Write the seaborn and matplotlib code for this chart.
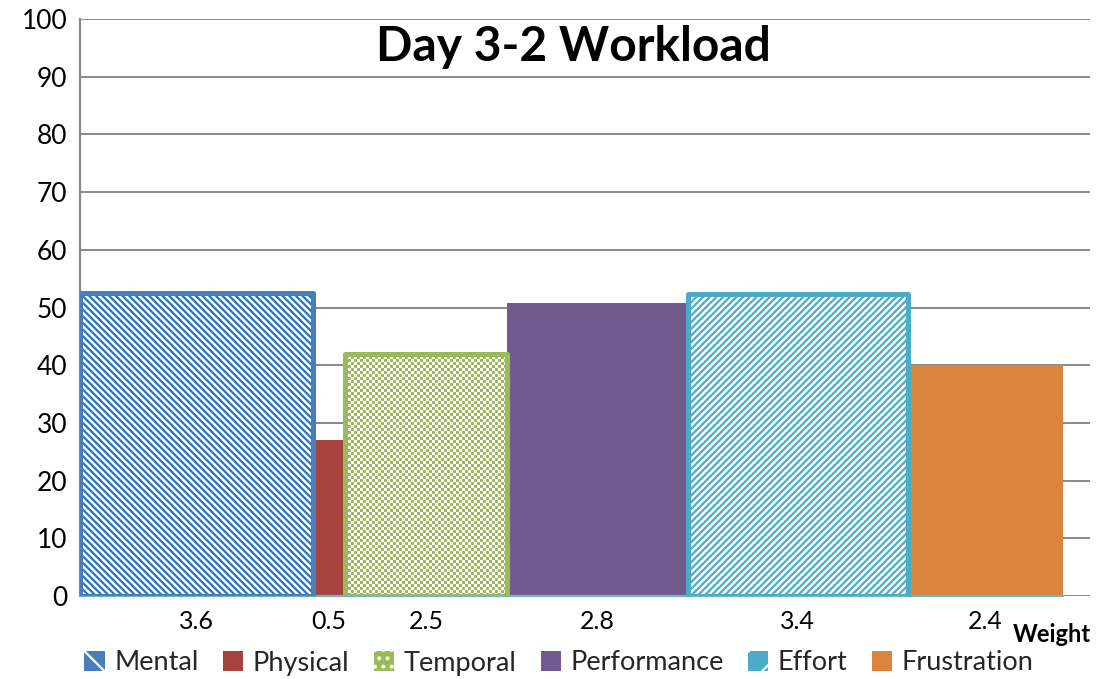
import numpy as np
import pandas as pd
import matplotlib
matplotlib.use("Agg")
import matplotlib.pyplot as plt
from matplotlib.patches import Patch, Rectangle
import seaborn as sns

# NASA-TLX style workload: bar width = weight, bar height = rating
categories = ["Mental", "Physical", "Temporal", "Performance", "Effort", "Frustration"]
weights = [3.6, 0.5, 2.5, 2.8, 3.4, 2.4]
ratings = [52.5, 27.0, 42.0, 50.8, 52.3, 40.0]
weight_labels = ["3.6", "0.5", "2.5", "2.8", "3.4", "2.4"]
y_ticks = [0, 10, 20, 30, 40, 50, 60, 70, 80, 90, 100]
title = "Day 3-2 Workload"

# styling per category
face_colors = ["white", "#A5433F", "white", "#725A8E", "white", "#DB843D"]
line_colors = ["#4A7EBB", "#A5433F", "#9BBB59", "#725A8E", "#4BACC6", "#DB843D"]
hatch_colors = ["#2474C4", None, "#9BBB59", None, "#4BACC6", None]
hatches = ["\\" * 5, None, "checker", None, "/" * 5, None]
outlined = [True, False, True, False, True, False]

sns.set_theme(style="white")
plt.rcParams["font.family"] = ["Lato", "DejaVu Sans"]
plt.rcParams["hatch.linewidth"] = 1.6

fig = plt.figure(figsize=(10.96, 6.79), dpi=100)
ax = fig.add_axes([80 / 1096, 1 - 596 / 679, 1010 / 1096, (596 - 19) / 679])

edges = [0.0] + list(np.cumsum(weights))
centers = [(a + b) / 2 for a, b in zip(edges[:-1], edges[1:])]
df = pd.DataFrame({"category": categories, "center": centers, "rating": ratings})

sns.histplot(data=df, x="center", weights="rating", bins=edges, ax=ax,
             stat="count", element="bars", fill=True, linewidth=0, zorder=2)

ax.set_xlim(0, 15.62)
ax.set_ylim(0, 100)
ax.set_xlabel("")
ax.set_ylabel("")

grey = "#898989"
ax.set_yticks(y_ticks)
ax.set_yticklabels([str(v) for v in y_ticks], fontsize=19, color="black")
ax.yaxis.grid(True, color=grey, linewidth=1.4, zorder=0)
ax.set_axisbelow(True)
ax.tick_params(axis="y", length=0, pad=9)

ax.set_xticks(edges)
ax.set_xticklabels([])
ax.set_xticks(centers, minor=True)
ax.set_xticklabels(weight_labels, minor=True, fontsize=18, color="black")
ax.tick_params(axis="x", which="major", length=6, width=1.4, color=grey, direction="out")
ax.tick_params(axis="x", which="minor", length=0, pad=10)

for side in ["top", "right"]:
    ax.spines[side].set_visible(False)
ax.spines["left"].set_color(grey)
ax.spines["left"].set_linewidth(1.6)
ax.spines["bottom"].set_color("#74B4C9")
ax.spines["bottom"].set_linewidth(1.6)
ax.spines["bottom"].set_bounds(0, edges[-1])

# pixels per data unit, used for the checker texture
fig.canvas.draw()
p0 = ax.transData.transform((0, 0))
p1 = ax.transData.transform((1, 1))
px_x = p1[0] - p0[0]
px_y = p1[1] - p0[1]
cell = 3.0

bars = list(ax.patches)
for i, bar in enumerate(bars):
    x0, w, h = bar.get_x(), bar.get_width(), bar.get_height()
    bar.set_facecolor(face_colors[i])
    bar.set_linewidth(0)
    if hatches[i] == "checker":
        nx = int(round(w * px_x / cell))
        ny = int(round(h * px_y / cell))
        jj, ii = np.indices((ny, nx))
        board = ((ii + jj) % 2).astype(float)
        cmap = matplotlib.colors.ListedColormap(["white", hatch_colors[i]])
        im = ax.imshow(board, extent=(x0, x0 + w, 0, h), origin="lower",
                       aspect="auto", interpolation="nearest", cmap=cmap,
                       zorder=2.1)
        im.set_clip_path(bar)
    elif hatches[i] is not None:
        bar.set_edgecolor(hatch_colors[i])
        bar.set_hatch(hatches[i])
    if outlined[i]:
        ax.add_patch(Rectangle((x0, 0), w, h, fill=False,
                               edgecolor=line_colors[i], linewidth=3.6,
                               joinstyle="round", zorder=3))

ax.set_xlim(0, 15.62)
ax.set_ylim(0, 100)

fig.text(573 / 1096, 1 - 47 / 679, title, ha="center", va="center",
         fontsize=34.5, fontweight="bold", color="black")
fig.text(1052 / 1096, 1 - 634 / 679, "Weight", ha="center", va="center",
         fontsize=17, fontweight="bold", color="black")

handles = []
for i, name in enumerate(categories):
    if hatches[i] is None:
        handles.append(Patch(facecolor=face_colors[i], edgecolor=face_colors[i],
                             linewidth=0, label=name))
    elif hatches[i] == "checker":
        handles.append(Patch(facecolor=line_colors[i], edgecolor="white",
                             hatch="..", linewidth=0, label=name))
    else:
        handles.append(Patch(facecolor=line_colors[i], edgecolor="white",
                             hatch=hatches[i][:1], linewidth=0, label=name))

fig.legend(handles=handles, loc="center", ncol=6, frameon=False,
           bbox_to_anchor=(559 / 1096, 1 - 663 / 679), fontsize=19.5,
           handlelength=0.75, handleheight=0.75, handletextpad=0.35,
           columnspacing=0.9, borderaxespad=0)

fig.savefig("out.png", dpi=100)
